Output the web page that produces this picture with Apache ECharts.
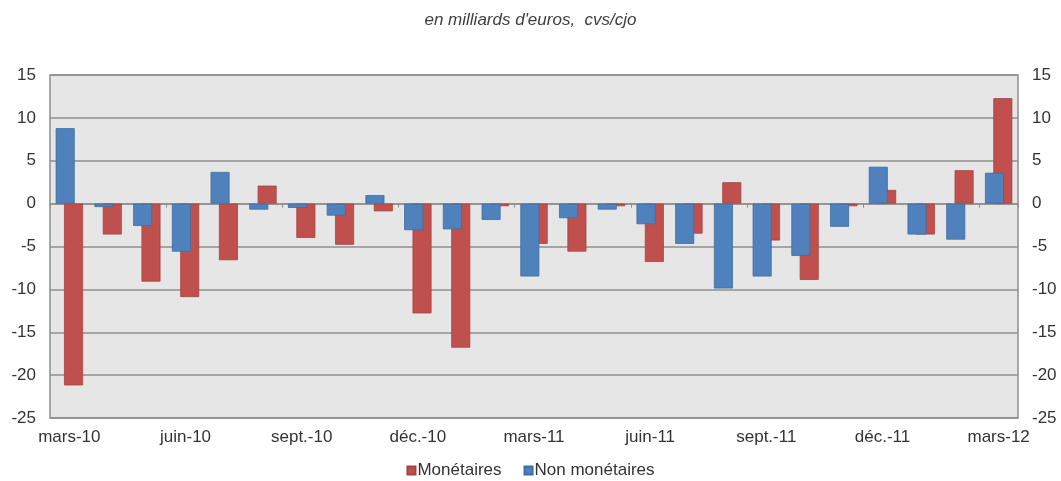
<!DOCTYPE html>
<html>
<head>
<meta charset="utf-8">
<script src="https://cdn.jsdelivr.net/npm/echarts@6/dist/echarts.min.js"></script>
<style>
  html, body { margin: 0; padding: 0; background: #fff; }
  #main { width: 1061px; height: 481px; }
</style>
</head>
<body>
<div id="main"></div>
<script>
// months mars-10 .. mars-12
const months = ['mars-10', 'avr.-10', 'mai-10', 'juin-10', 'juil.-10', 'août-10', 'sept.-10', 'oct.-10', 'nov.-10',
  'déc.-10', 'janv.-11', 'févr.-11', 'mars-11', 'avr.-11', 'mai-11', 'juin-11', 'juil.-11', 'août-11',
  'sept.-11', 'oct.-11', 'nov.-11', 'déc.-11', 'janv.-12', 'févr.-12', 'mars-12'];
const nonMonetaires = [8.8, -0.4, -2.6, -5.6, 3.7, -0.7, -0.5, -1.4, 1.0, -3.1, -3.0, -1.9, -8.5,
  -1.7, -0.7, -2.4, -4.7, -9.9, -8.5, -6.1, -2.7, 4.3, -3.6, -4.2, 3.6];
const monetaires = [-21.2, -3.6, -9.1, -10.9, -6.6, 2.1, -4.0, -4.8, -0.9, -12.8, -16.8, -0.3, -4.7,
  -5.6, -0.3, -6.8, -3.5, 2.5, -4.3, -8.9, -0.3, 1.6, -3.6, 3.9, 12.3];
const yTicks = { min: -25, max: 15, interval: 5 };

const myChart = echarts.init(document.getElementById('main'));
const font = 'Liberation Sans, Arial, sans-serif';
const txt = '#333';

const yAxisBase = {
  type: 'value',
  min: yTicks.min,
  max: yTicks.max,
  interval: yTicks.interval,
  axisLine: { show: false },
  axisTick: { show: false },
  splitLine: { lineStyle: { color: '#8f8f8f', width: 1.5 } },
  axisLabel: { color: txt, fontFamily: font, fontSize: 17, margin: 14 }
};

const option = {
  animation: false,
  title: {
    text: 'en milliards d\'euros,  cvs/cjo',
    left: 'center',
    top: 7,
    textStyle: { fontFamily: font, fontSize: 17, fontStyle: 'italic', fontWeight: 'normal', color: '#404040' }
  },
  legend: {
    top: 457,
    left: 'center',
    data: ['Monétaires', 'Non monétaires'],
    icon: 'rect',
    itemWidth: 8,
    itemHeight: 8,
    itemGap: 22,
    textStyle: { fontFamily: font, fontSize: 17, color: txt, padding: [0, 0, 0, -3] }
  },
  grid: {
    left: 50, right: 43, top: 75, bottom: 63,
    show: true,
    backgroundColor: '#e6e6e6',
    borderColor: '#8f8f8f',
    borderWidth: 1.5
  },
  xAxis: [{
    type: 'category',
    data: months,
    position: 'bottom',
    axisLine: { show: false, onZero: false },
    axisTick: { show: false },
    axisLabel: { interval: 2, color: txt, fontFamily: font, fontSize: 17, margin: 11 }
  }, {
    type: 'category',
    data: months,
    position: 'bottom',
    axisLine: { show: true, onZero: true, lineStyle: { color: '#8f8f8f', width: 1.5 } },
    axisTick: { show: true, interval: 2, length: 4, lineStyle: { color: '#8f8f8f' } },
    axisLabel: { show: false }
  }],
  yAxis: [
    Object.assign({}, yAxisBase, { position: 'left' }),
    Object.assign({}, yAxisBase, { position: 'right', splitLine: { show: false } })
  ],
  series: [{
    name: 'Non monétaires',
    type: 'bar',
    data: nonMonetaires,
    barWidth: 19,
    barGap: '-56%',
    z: 3,
    itemStyle: { color: '#4f81bd', borderColor: '#3f6d9f', borderWidth: 0.8 }
  }, {
    name: 'Monétaires',
    type: 'bar',
    data: monetaires,
    barWidth: 19,
    z: 2,
    itemStyle: { color: '#c0504d', borderColor: '#a84240', borderWidth: 0.8 }
  }]
};

myChart.setOption(option);
</script>
</body>
</html>
